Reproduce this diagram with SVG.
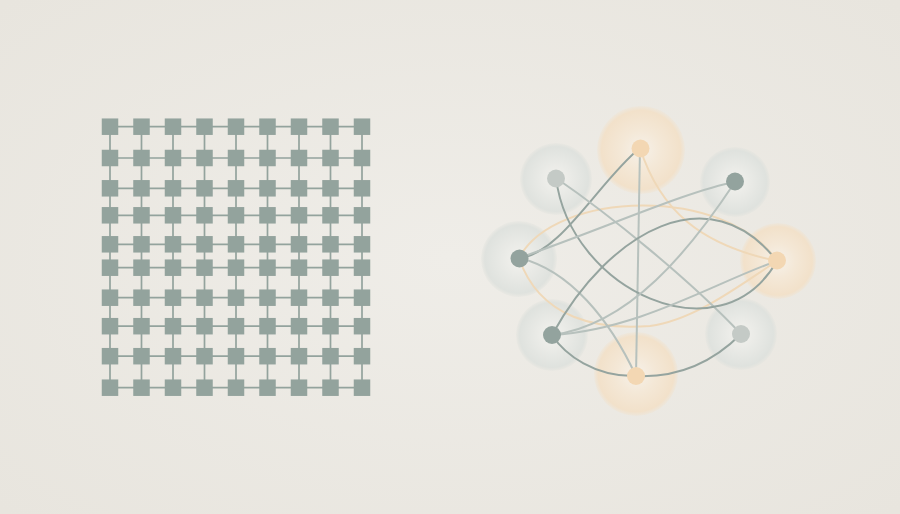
<svg xmlns="http://www.w3.org/2000/svg" width="900" height="514" viewBox="0 0 900 514">
<defs>
<radialGradient id="bg" cx="50%" cy="50%" r="70%">
<stop offset="0" stop-color="#efede8"/>
<stop offset="1" stop-color="#e8e5de"/>
</radialGradient>
<radialGradient id="hg">
<stop offset="0" stop-color="#f3f2ee"/>
<stop offset="0.45" stop-color="#e9eae6"/>
<stop offset="0.9" stop-color="#dfe2de"/>
<stop offset="1" stop-color="#e0e2dd" stop-opacity="0.3"/>
</radialGradient>
<radialGradient id="hp">
<stop offset="0" stop-color="#f6f1e9"/>
<stop offset="0.45" stop-color="#f4e8d7"/>
<stop offset="0.9" stop-color="#f2e1ca"/>
<stop offset="1" stop-color="#f1e2cd" stop-opacity="0.3"/>
</radialGradient>
</defs>
<style>
.sq{fill:#93a39d}
.gl{stroke:#93a39d;stroke-width:1.7;fill:none}
.dk{fill:none;stroke:#95a49f;stroke-width:2}
.lt{fill:none;stroke:#b7c1bd;stroke-width:2}
.pc{fill:none;stroke:#efd8b8;stroke-width:2}
.nd{fill:#93a39e}
.nl{fill:#c4cac6}
.np{fill:#f3d7b3}
</style>
<rect width="900" height="514" fill="url(#bg)"/>

<g id="grid-connectors">
<path class="gl" d="M110 126.7H362M110 158H362M110 188.3H362M110 215.3H362M110 244.3H362M110 267.7H362M110 297.7H362M110 326.2H362M110 356.2H362M110 387.7H362"/>
<path class="gl" d="M110 126.7V387.7M141.5 126.7V387.7M173 126.7V387.7M204.5 126.7V387.7M236 126.7V387.7M267.5 126.7V387.7M299 126.7V387.7M330.5 126.7V387.7M362 126.7V387.7"/>
</g>

<g id="grid-nodes">
<g id="s1-1"><rect class="sq" x="101.75" y="118.45" width="16.5" height="16.5"/></g>
<g id="s1-2"><rect class="sq" x="133.25" y="118.45" width="16.5" height="16.5"/></g>
<g id="s1-3"><rect class="sq" x="164.75" y="118.45" width="16.5" height="16.5"/></g>
<g id="s1-4"><rect class="sq" x="196.25" y="118.45" width="16.5" height="16.5"/></g>
<g id="s1-5"><rect class="sq" x="227.75" y="118.45" width="16.5" height="16.5"/></g>
<g id="s1-6"><rect class="sq" x="259.25" y="118.45" width="16.5" height="16.5"/></g>
<g id="s1-7"><rect class="sq" x="290.75" y="118.45" width="16.5" height="16.5"/></g>
<g id="s1-8"><rect class="sq" x="322.25" y="118.45" width="16.5" height="16.5"/></g>
<g id="s1-9"><rect class="sq" x="353.75" y="118.45" width="16.5" height="16.5"/></g>
<g id="s2-1"><rect class="sq" x="101.75" y="149.75" width="16.5" height="16.5"/></g>
<g id="s2-2"><rect class="sq" x="133.25" y="149.75" width="16.5" height="16.5"/></g>
<g id="s2-3"><rect class="sq" x="164.75" y="149.75" width="16.5" height="16.5"/></g>
<g id="s2-4"><rect class="sq" x="196.25" y="149.75" width="16.5" height="16.5"/></g>
<g id="s2-5"><rect class="sq" x="227.75" y="149.75" width="16.5" height="16.5"/></g>
<g id="s2-6"><rect class="sq" x="259.25" y="149.75" width="16.5" height="16.5"/></g>
<g id="s2-7"><rect class="sq" x="290.75" y="149.75" width="16.5" height="16.5"/></g>
<g id="s2-8"><rect class="sq" x="322.25" y="149.75" width="16.5" height="16.5"/></g>
<g id="s2-9"><rect class="sq" x="353.75" y="149.75" width="16.5" height="16.5"/></g>
<g id="s3-1"><rect class="sq" x="101.75" y="180.05" width="16.5" height="16.5"/></g>
<g id="s3-2"><rect class="sq" x="133.25" y="180.05" width="16.5" height="16.5"/></g>
<g id="s3-3"><rect class="sq" x="164.75" y="180.05" width="16.5" height="16.5"/></g>
<g id="s3-4"><rect class="sq" x="196.25" y="180.05" width="16.5" height="16.5"/></g>
<g id="s3-5"><rect class="sq" x="227.75" y="180.05" width="16.5" height="16.5"/></g>
<g id="s3-6"><rect class="sq" x="259.25" y="180.05" width="16.5" height="16.5"/></g>
<g id="s3-7"><rect class="sq" x="290.75" y="180.05" width="16.5" height="16.5"/></g>
<g id="s3-8"><rect class="sq" x="322.25" y="180.05" width="16.5" height="16.5"/></g>
<g id="s3-9"><rect class="sq" x="353.75" y="180.05" width="16.5" height="16.5"/></g>
<g id="s4-1"><rect class="sq" x="101.75" y="207.05" width="16.5" height="16.5"/></g>
<g id="s4-2"><rect class="sq" x="133.25" y="207.05" width="16.5" height="16.5"/></g>
<g id="s4-3"><rect class="sq" x="164.75" y="207.05" width="16.5" height="16.5"/></g>
<g id="s4-4"><rect class="sq" x="196.25" y="207.05" width="16.5" height="16.5"/></g>
<g id="s4-5"><rect class="sq" x="227.75" y="207.05" width="16.5" height="16.5"/></g>
<g id="s4-6"><rect class="sq" x="259.25" y="207.05" width="16.5" height="16.5"/></g>
<g id="s4-7"><rect class="sq" x="290.75" y="207.05" width="16.5" height="16.5"/></g>
<g id="s4-8"><rect class="sq" x="322.25" y="207.05" width="16.5" height="16.5"/></g>
<g id="s4-9"><rect class="sq" x="353.75" y="207.05" width="16.5" height="16.5"/></g>
<g id="s5-1"><rect class="sq" x="101.75" y="236.05" width="16.5" height="16.5"/></g>
<g id="s5-2"><rect class="sq" x="133.25" y="236.05" width="16.5" height="16.5"/></g>
<g id="s5-3"><rect class="sq" x="164.75" y="236.05" width="16.5" height="16.5"/></g>
<g id="s5-4"><rect class="sq" x="196.25" y="236.05" width="16.5" height="16.5"/></g>
<g id="s5-5"><rect class="sq" x="227.75" y="236.05" width="16.5" height="16.5"/></g>
<g id="s5-6"><rect class="sq" x="259.25" y="236.05" width="16.5" height="16.5"/></g>
<g id="s5-7"><rect class="sq" x="290.75" y="236.05" width="16.5" height="16.5"/></g>
<g id="s5-8"><rect class="sq" x="322.25" y="236.05" width="16.5" height="16.5"/></g>
<g id="s5-9"><rect class="sq" x="353.75" y="236.05" width="16.5" height="16.5"/></g>
<g id="s6-1"><rect class="sq" x="101.75" y="259.45" width="16.5" height="16.5"/></g>
<g id="s6-2"><rect class="sq" x="133.25" y="259.45" width="16.5" height="16.5"/></g>
<g id="s6-3"><rect class="sq" x="164.75" y="259.45" width="16.5" height="16.5"/></g>
<g id="s6-4"><rect class="sq" x="196.25" y="259.45" width="16.5" height="16.5"/></g>
<g id="s6-5"><rect class="sq" x="227.75" y="259.45" width="16.5" height="16.5"/></g>
<g id="s6-6"><rect class="sq" x="259.25" y="259.45" width="16.5" height="16.5"/></g>
<g id="s6-7"><rect class="sq" x="290.75" y="259.45" width="16.5" height="16.5"/></g>
<g id="s6-8"><rect class="sq" x="322.25" y="259.45" width="16.5" height="16.5"/></g>
<g id="s6-9"><rect class="sq" x="353.75" y="259.45" width="16.5" height="16.5"/></g>
<g id="s7-1"><rect class="sq" x="101.75" y="289.45" width="16.5" height="16.5"/></g>
<g id="s7-2"><rect class="sq" x="133.25" y="289.45" width="16.5" height="16.5"/></g>
<g id="s7-3"><rect class="sq" x="164.75" y="289.45" width="16.5" height="16.5"/></g>
<g id="s7-4"><rect class="sq" x="196.25" y="289.45" width="16.5" height="16.5"/></g>
<g id="s7-5"><rect class="sq" x="227.75" y="289.45" width="16.5" height="16.5"/></g>
<g id="s7-6"><rect class="sq" x="259.25" y="289.45" width="16.5" height="16.5"/></g>
<g id="s7-7"><rect class="sq" x="290.75" y="289.45" width="16.5" height="16.5"/></g>
<g id="s7-8"><rect class="sq" x="322.25" y="289.45" width="16.5" height="16.5"/></g>
<g id="s7-9"><rect class="sq" x="353.75" y="289.45" width="16.5" height="16.5"/></g>
<g id="s8-1"><rect class="sq" x="101.75" y="317.95" width="16.5" height="16.5"/></g>
<g id="s8-2"><rect class="sq" x="133.25" y="317.95" width="16.5" height="16.5"/></g>
<g id="s8-3"><rect class="sq" x="164.75" y="317.95" width="16.5" height="16.5"/></g>
<g id="s8-4"><rect class="sq" x="196.25" y="317.95" width="16.5" height="16.5"/></g>
<g id="s8-5"><rect class="sq" x="227.75" y="317.95" width="16.5" height="16.5"/></g>
<g id="s8-6"><rect class="sq" x="259.25" y="317.95" width="16.5" height="16.5"/></g>
<g id="s8-7"><rect class="sq" x="290.75" y="317.95" width="16.5" height="16.5"/></g>
<g id="s8-8"><rect class="sq" x="322.25" y="317.95" width="16.5" height="16.5"/></g>
<g id="s8-9"><rect class="sq" x="353.75" y="317.95" width="16.5" height="16.5"/></g>
<g id="s9-1"><rect class="sq" x="101.75" y="347.95" width="16.5" height="16.5"/></g>
<g id="s9-2"><rect class="sq" x="133.25" y="347.95" width="16.5" height="16.5"/></g>
<g id="s9-3"><rect class="sq" x="164.75" y="347.95" width="16.5" height="16.5"/></g>
<g id="s9-4"><rect class="sq" x="196.25" y="347.95" width="16.5" height="16.5"/></g>
<g id="s9-5"><rect class="sq" x="227.75" y="347.95" width="16.5" height="16.5"/></g>
<g id="s9-6"><rect class="sq" x="259.25" y="347.95" width="16.5" height="16.5"/></g>
<g id="s9-7"><rect class="sq" x="290.75" y="347.95" width="16.5" height="16.5"/></g>
<g id="s9-8"><rect class="sq" x="322.25" y="347.95" width="16.5" height="16.5"/></g>
<g id="s9-9"><rect class="sq" x="353.75" y="347.95" width="16.5" height="16.5"/></g>
<g id="s10-1"><rect class="sq" x="101.75" y="379.45" width="16.5" height="16.5"/></g>
<g id="s10-2"><rect class="sq" x="133.25" y="379.45" width="16.5" height="16.5"/></g>
<g id="s10-3"><rect class="sq" x="164.75" y="379.45" width="16.5" height="16.5"/></g>
<g id="s10-4"><rect class="sq" x="196.25" y="379.45" width="16.5" height="16.5"/></g>
<g id="s10-5"><rect class="sq" x="227.75" y="379.45" width="16.5" height="16.5"/></g>
<g id="s10-6"><rect class="sq" x="259.25" y="379.45" width="16.5" height="16.5"/></g>
<g id="s10-7"><rect class="sq" x="290.75" y="379.45" width="16.5" height="16.5"/></g>
<g id="s10-8"><rect class="sq" x="322.25" y="379.45" width="16.5" height="16.5"/></g>
<g id="s10-9"><rect class="sq" x="353.75" y="379.45" width="16.5" height="16.5"/></g>
</g>

<g id="halos">
<circle cx="641" cy="150" r="44" fill="url(#hp)"/>
<circle cx="556" cy="179" r="36" fill="url(#hg)"/>
<circle cx="735" cy="182" r="35" fill="url(#hg)"/>
<circle cx="519" cy="259" r="38" fill="url(#hg)"/>
<circle cx="778" cy="261" r="38" fill="url(#hp)"/>
<circle cx="552" cy="335" r="36" fill="url(#hg)"/>
<circle cx="741" cy="334" r="36" fill="url(#hg)"/>
<circle cx="636" cy="374" r="42" fill="url(#hp)"/>
</g>

<g id="connectors">
<path class="pc" d="M519 258C555 190 725 185 777 261"/>
<path class="pc" d="M519 258C540 320 600 330 650 326C695 320 740 285 777 261"/>
<path class="pc" d="M640 148C660 210 700 245 777 261"/>
<path class="lt" d="M640 148L636 376"/>
<path class="dk" d="M519 258C560 255 600 180 640 148"/>
<path class="lt" d="M556 178C610 215 690 280 741 334"/>
<path class="dk" d="M556 178C570 290 720 360 777 261"/>
<path class="lt" d="M519 258C570 270 610 320 636 376"/>
<path class="dk" d="M552 335C610 230 710 175 777 261"/>
<path class="lt" d="M552 335C630 325 690 250 735 182"/>
<path class="lt" d="M777 261C720 280 640 330 552 335"/>
<path class="lt" d="M735 182C690 190 600 230 519 258"/>
<path class="dk" d="M552 335C565 355 595 377 636 376"/>
<path class="dk" d="M636 376C680 378 715 360 741 334"/>
</g>

<g id="n-top"><circle class="np" cx="640.5" cy="148.5" r="9"/></g>
<g id="n-upper-left"><circle class="nl" cx="556" cy="178.5" r="9"/></g>
<g id="n-upper-right"><circle class="nd" cx="735" cy="181.5" r="9"/></g>
<g id="n-left"><circle class="nd" cx="519.5" cy="258.5" r="9"/></g>
<g id="n-right"><circle class="np" cx="777" cy="260.5" r="9"/></g>
<g id="n-lower-left"><circle class="nd" cx="552" cy="335" r="9"/></g>
<g id="n-lower-right"><circle class="nl" cx="741" cy="334" r="9"/></g>
<g id="n-bottom"><circle class="np" cx="636" cy="376" r="9"/></g>
</svg>
